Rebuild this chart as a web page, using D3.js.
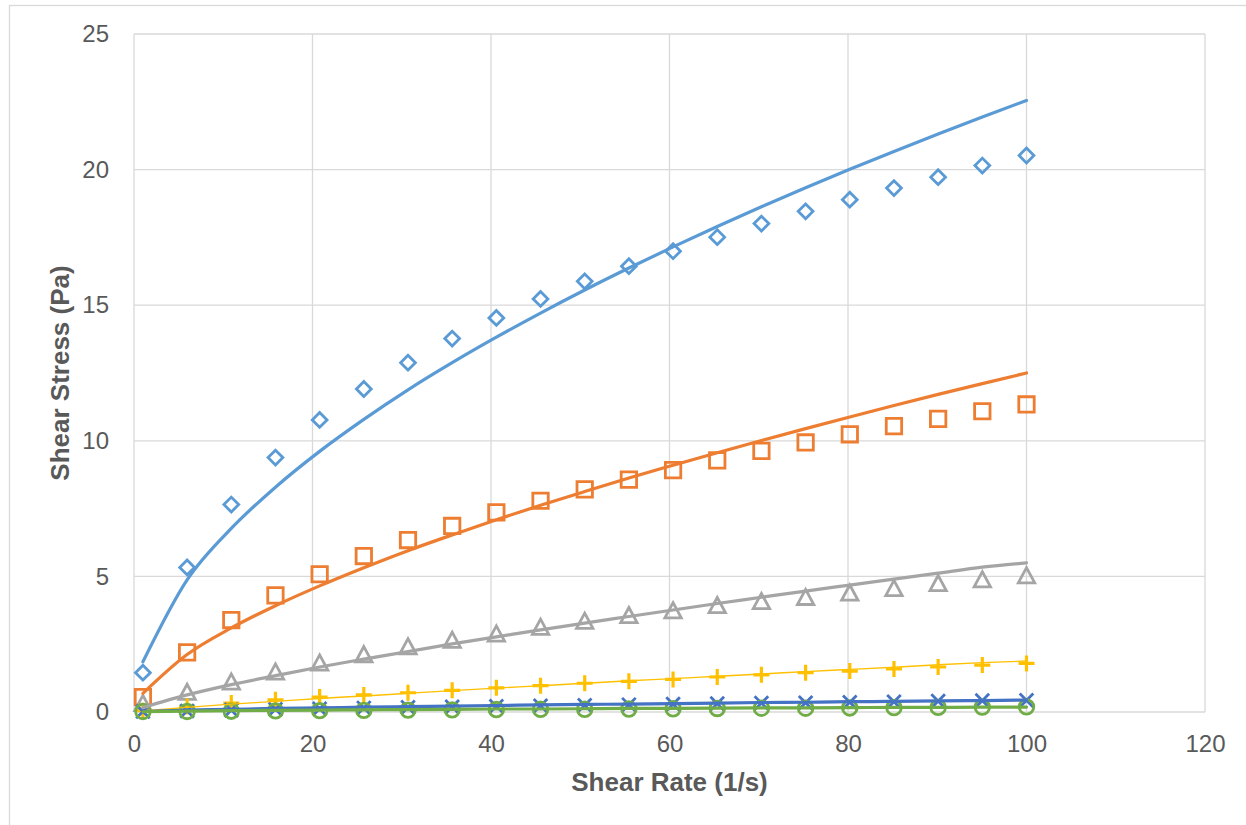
<!DOCTYPE html>
<html>
<head>
<meta charset="utf-8">
<script src="https://cdn.jsdelivr.net/npm/d3@7"></script>
<style>
  html, body { margin: 0; padding: 0; background: #fff; }
  svg { display: block; font-family: "Liberation Sans", Arial, sans-serif; }
</style>
</head>
<body>
<svg id="chart" width="1246" height="825"></svg>
<script>
// Shear rate sample points (1/s)
const shearRate = [1, 5.95, 10.9, 15.85, 20.8, 25.75, 30.7, 35.65, 40.6, 45.55, 50.5,
                   55.45, 60.4, 65.35, 70.3, 75.25, 80.2, 85.15, 90.1, 95.05, 100];

// Measured shear stress (Pa)
const stressA = [1.45, 5.33, 7.65, 9.38, 10.77, 11.91, 12.88, 13.77, 14.53, 15.23, 15.88,
                 16.44, 16.99, 17.51, 18.01, 18.46, 18.89, 19.32, 19.72, 20.15, 20.52];
const stressB = [0.55, 2.20, 3.39, 4.30, 5.08, 5.75, 6.34, 6.86, 7.36, 7.79, 8.21,
                 8.57, 8.92, 9.28, 9.63, 9.94, 10.24, 10.54, 10.81, 11.09, 11.34];
const stressC = [0.30, 0.71, 1.09, 1.46, 1.79, 2.10, 2.39, 2.63, 2.86, 3.11, 3.33,
                 3.54, 3.72, 3.91, 4.06, 4.21, 4.37, 4.54, 4.72, 4.86, 5.01];
const stressD = [0.05, 0.20, 0.33, 0.45, 0.55, 0.63, 0.71, 0.80, 0.89, 0.97, 1.06,
                 1.13, 1.20, 1.29, 1.37, 1.45, 1.51, 1.59, 1.66, 1.73, 1.79];
const stressE = [0.02, 0.04, 0.07, 0.10, 0.12, 0.15, 0.17, 0.19, 0.21, 0.23, 0.25,
                 0.27, 0.29, 0.31, 0.33, 0.34, 0.36, 0.38, 0.40, 0.42, 0.43];
const stressF = [0.02, 0.02, 0.03, 0.04, 0.05, 0.06, 0.07, 0.08, 0.09, 0.10, 0.10,
                 0.11, 0.12, 0.13, 0.14, 0.14, 0.15, 0.16, 0.17, 0.18, 0.19];

// Power-law trendlines evaluated at the same shear rates
const trendA = [1.85, 4.87, 6.77, 8.29, 9.61, 10.79, 11.88, 12.88, 13.82, 14.71, 15.56,
                16.37, 17.15, 17.90, 18.63, 19.33, 20.01, 20.67, 21.31, 21.94, 22.55];
const trendB = [0.69, 2.12, 3.10, 3.92, 4.65, 5.32, 5.95, 6.53, 7.09, 7.62, 8.13,
                8.63, 9.10, 9.56, 10.01, 10.45, 10.88, 11.30, 11.71, 12.11, 12.50];
const trendC = [0.16, 0.63, 1.01, 1.34, 1.66, 1.95, 2.23, 2.51, 2.77, 3.03, 3.28,
                3.52, 3.76, 4.00, 4.23, 4.46, 4.68, 4.90, 5.12, 5.34, 5.50];
const trendD = [0.04, 0.17, 0.29, 0.39, 0.50, 0.59, 0.69, 0.79, 0.88, 0.97, 1.06,
                1.15, 1.23, 1.32, 1.40, 1.49, 1.57, 1.65, 1.74, 1.82, 1.88];
const trendE = [0.02, 0.07, 0.10, 0.13, 0.15, 0.18, 0.20, 0.22, 0.24, 0.26, 0.28,
                0.29, 0.31, 0.33, 0.35, 0.36, 0.38, 0.39, 0.41, 0.42, 0.44];
const trendF = [0.01, 0.03, 0.05, 0.06, 0.07, 0.08, 0.09, 0.10, 0.11, 0.11, 0.12,
                0.13, 0.13, 0.14, 0.15, 0.15, 0.16, 0.17, 0.17, 0.18, 0.18];

// Axis ticks
const xTicks = [0, 20, 40, 60, 80, 100, 120];
const yTicks = [0, 5, 10, 15, 20, 25];

const xTitle = "Shear Rate (1/s)";
const yTitle = "Shear Stress (Pa)";

// Marker glyphs
const markerDiamond = { draw(ctx) { const r = 7.4; ctx.moveTo(0, -r); ctx.lineTo(r, 0); ctx.lineTo(0, r); ctx.lineTo(-r, 0); ctx.closePath(); } };
const markerSquare = { draw(ctx) { const r = 7.7; ctx.rect(-r, -r, 2 * r, 2 * r); } };
const markerTriangle = { draw(ctx) { ctx.moveTo(0, -8.5); ctx.lineTo(8.2, 6.7); ctx.lineTo(-8.2, 6.7); ctx.closePath(); } };
const markerPlus = { draw(ctx) { const r = 8; ctx.moveTo(-r, 0); ctx.lineTo(r, 0); ctx.moveTo(0, -r); ctx.lineTo(0, r); } };
const markerCross = { draw(ctx) { const r = 6.8; ctx.moveTo(-r, -r); ctx.lineTo(r, r); ctx.moveTo(r, -r); ctx.lineTo(-r, r); } };
const markerCircle = { draw(ctx) { const r = 7.3; ctx.moveTo(r, 0); ctx.arc(0, 0, r, 0, 2 * Math.PI); } };

const series = [
  { values: stressA, trend: trendA, color: "#5B9BD5", marker: markerDiamond, mw: 2.8, lw: 3.2 },
  { values: stressB, trend: trendB, color: "#ED7D31", marker: markerSquare, mw: 2.8, lw: 3.2 },
  { values: stressC, trend: trendC, color: "#A5A5A5", marker: markerTriangle, mw: 2.8, lw: 3.2 },
  { values: stressD, trend: trendD, color: "#FFC000", marker: markerPlus, mw: 3.2, lw: 1.4 },
  { values: stressE, trend: trendE, color: "#4472C4", marker: markerCross, mw: 2.8, lw: 3.2 },
  { values: stressF, trend: trendF, color: "#70AD47", marker: markerCircle, mw: 2.8, lw: 3.2 }
];

const svg = d3.select("#chart");
const width = 1246, height = 825;
const plot = { left: 134, right: 1205, top: 34, bottom: 712 };

// Chart frame
svg.append("rect").attr("x", 0).attr("y", 0).attr("width", width).attr("height", height).attr("fill", "#fff");
svg.append("rect").attr("x", 9.5).attr("y", 5.5).attr("width", 1260).attr("height", 840)
  .attr("fill", "none").attr("stroke", "#D9D9D9").attr("stroke-width", 1.3);

const x = d3.scaleLinear().domain([0, 120]).range([plot.left, plot.right]);
const y = d3.scaleLinear().domain([0, 25]).range([plot.bottom, plot.top]);

// Gridlines
const grid = svg.append("g");
grid.selectAll("line.v").data(xTicks).join("line")
  .attr("x1", d => x(d)).attr("x2", d => x(d))
  .attr("y1", plot.top).attr("y2", plot.bottom)
  .attr("stroke", "#D9D9D9").attr("stroke-width", 1.3);
grid.selectAll("line.h").data(yTicks).join("line")
  .attr("x1", plot.left).attr("x2", plot.right)
  .attr("y1", d => y(d)).attr("y2", d => y(d))
  .attr("stroke", "#D9D9D9").attr("stroke-width", 1.3);

// Axes (labels only)
const xAxis = svg.append("g").attr("transform", `translate(0,${plot.bottom})`)
  .call(d3.axisBottom(x).tickValues(xTicks).tickSize(0).tickPadding(23).tickFormat(d3.format("d")));
const yAxis = svg.append("g").attr("transform", `translate(${plot.left},0)`)
  .call(d3.axisLeft(y).tickValues(yTicks).tickSize(0).tickPadding(25).tickFormat(d3.format("d")));
[xAxis, yAxis].forEach(a => {
  a.select(".domain").remove();
  a.selectAll("text").attr("fill", "#595959").attr("font-size", 24)
    .attr("font-family", "'Liberation Sans', Arial, sans-serif");
});

// Axis titles
svg.append("text").attr("x", (plot.left + plot.right) / 2).attr("y", 791)
  .attr("text-anchor", "middle").attr("font-size", 26).attr("font-weight", "bold")
  .attr("fill", "#595959").text(xTitle);
svg.append("text").attr("transform", `translate(69,${(plot.top + plot.bottom) / 2}) rotate(-90)`)
  .attr("text-anchor", "middle").attr("font-size", 26).attr("font-weight", "bold")
  .attr("fill", "#595959").text(yTitle);

// Markers
const markersG = svg.append("g");
series.forEach(s => {
  const sym = d3.symbol().type(s.marker);
  markersG.append("g").selectAll("path").data(s.values).join("path")
    .attr("transform", (d, i) => `translate(${x(shearRate[i])},${y(d)})`)
    .attr("d", sym())
    .attr("fill", "none").attr("stroke", s.color).attr("stroke-width", s.mw)
    .attr("stroke-linejoin", "miter");
});

// Trendlines
const line = d3.line().x((d, i) => x(shearRate[i])).y(d => y(d)).curve(d3.curveMonotoneX);
const trendG = svg.append("g");
series.forEach(s => {
  trendG.append("path").datum(s.trend).attr("d", line)
    .attr("fill", "none").attr("stroke", s.color).attr("stroke-width", s.lw)
    .attr("stroke-linecap", "round");
});
</script>
</body>
</html>
